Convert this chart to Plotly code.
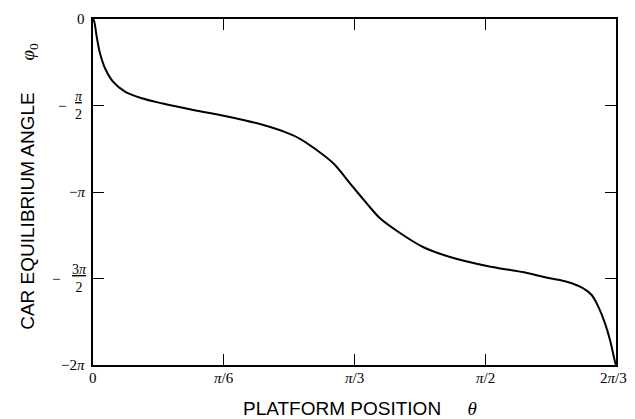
import math
import plotly.graph_objects as go

PI = math.pi

# Platform position theta (rad) and car equilibrium angle phi0 (rad)
theta = [0.0, 0.0052, 0.0148, 0.0280, 0.0481, 0.0801, 0.1281, 0.1950, 0.2751,
         0.4017, 0.5086, 0.6019, 0.6820, 0.7621, 0.8289, 0.8958, 0.9623, 1.0292,
         1.0612, 1.0960, 1.1493, 1.2294, 1.3215, 1.4296, 1.5778, 1.7380, 1.8301,
         1.8970, 1.9635, 1.9971, 2.0235, 2.0504, 2.0704, 2.0904, 2.0944]
phi0 = [0.0, -0.049, -0.321, -0.624, -0.895, -1.139, -1.320, -1.440, -1.531,
        -1.652, -1.743, -1.834, -1.925, -2.040, -2.175, -2.379, -2.620, -2.984,
        -3.160, -3.347, -3.619, -3.886, -4.140, -4.322, -4.485, -4.612, -4.709,
        -4.770, -4.890, -5.012, -5.224, -5.526, -5.829, -6.223, -6.283]

x_tickvals = [0, PI / 6, PI / 3, PI / 2, 2 * PI / 3]
x_ticktext = ["0", "<i>π</i>/6", "<i>π</i>/3", "<i>π</i>/2", "2<i>π</i>/3"]
y_tickvals = [0, -PI / 2, -PI, -3 * PI / 2, -2 * PI]
# (numerator, denominator) for fractions, or plain text
y_ticklabels = [("0", None), ("<i>π</i>", "2"), ("−<i>π</i>", None),
                ("3<i>π</i>", "2"), ("−2<i>π</i>", None)]

SERIF = "Liberation Serif"
SANS = "Liberation Sans"

# the page body has an 8px default margin; size the figure so the plot lands where the reference has it
BODY = 8

fig = go.Figure()
fig.add_trace(go.Scatter(x=theta, y=phi0, mode="lines",
                         line=dict(color="black", width=2, shape="spline", smoothing=0.9),
                         hoverinfo="skip", showlegend=False))

axis_common = dict(showline=True, linecolor="black", linewidth=1.8, mirror="ticks",
                   ticks="inside", ticklen=11, tickwidth=1.2, tickcolor="black",
                   showgrid=False, zeroline=False, automargin=False,
                   showticklabels=False)

fig.update_xaxes(range=[0, 2 * PI / 3], tickvals=x_tickvals, **axis_common)
fig.update_yaxes(range=[-2 * PI, 0], tickvals=y_tickvals, **axis_common)

tick_font = dict(family=SERIF, size=15, color="black")
annotations = []
for i, (val, txt) in enumerate(zip(x_tickvals, x_ticktext)):
    annotations.append(dict(x=val, xref="x", y=0, yref="paper", text=txt,
                            showarrow=False, xanchor="center", yanchor="top",
                            yshift=-3, xshift=-3 if i == len(x_tickvals) - 1 else 0,
                            font=tick_font))

for val, (num, den) in zip(y_tickvals, y_ticklabels):
    if den is None:
        annotations.append(dict(x=0, xref="paper", y=val, yref="y", text=num,
                                showarrow=False, xanchor="right", yanchor="middle",
                                xshift=-6, font=tick_font))
    else:
        annotations.append(dict(x=0, xref="paper", y=val, yref="y",
                                text="<u>" + num + "</u><br>" + den,
                                showarrow=False, xanchor="center", yanchor="middle",
                                xshift=-14, font=dict(family=SERIF, size=14, color="black")))
        annotations.append(dict(x=0, xref="paper", y=val, yref="y", text="−",
                                showarrow=False, xanchor="right", yanchor="middle",
                                xshift=-31 if num.startswith("3") else -25, font=tick_font))

annotations.append(dict(x=0.51, xref="paper", y=0, yref="paper", yshift=-31,
                        text="PLATFORM POSITION" + "\u00a0" * 5 +
                             "<span style='font-family:Liberation Serif'><i>θ</i></span>",
                        showarrow=False, xanchor="center", yanchor="top",
                        font=dict(family=SANS, size=19, color="black")))
annotations.append(dict(x=0, xref="paper", y=0.515, yref="paper", xshift=-64,
                        text="CAR EQUILIBRIUM ANGLE" + "\u00a0" * 6 +
                             "<span style='font-family:Liberation Serif'><i>φ</i><sub>0</sub></span>",
                        textangle=-90, showarrow=False, xanchor="center", yanchor="middle",
                        font=dict(family=SANS, size=19, color="black")))

fig.update_layout(width=635 - BODY, height=419 - BODY,
                  margin=dict(l=93 - BODY, r=19, t=19 - BODY, b=54, autoexpand=False),
                  paper_bgcolor="white", plot_bgcolor="white",
                  annotations=annotations)

fig.write_html("out.html")
